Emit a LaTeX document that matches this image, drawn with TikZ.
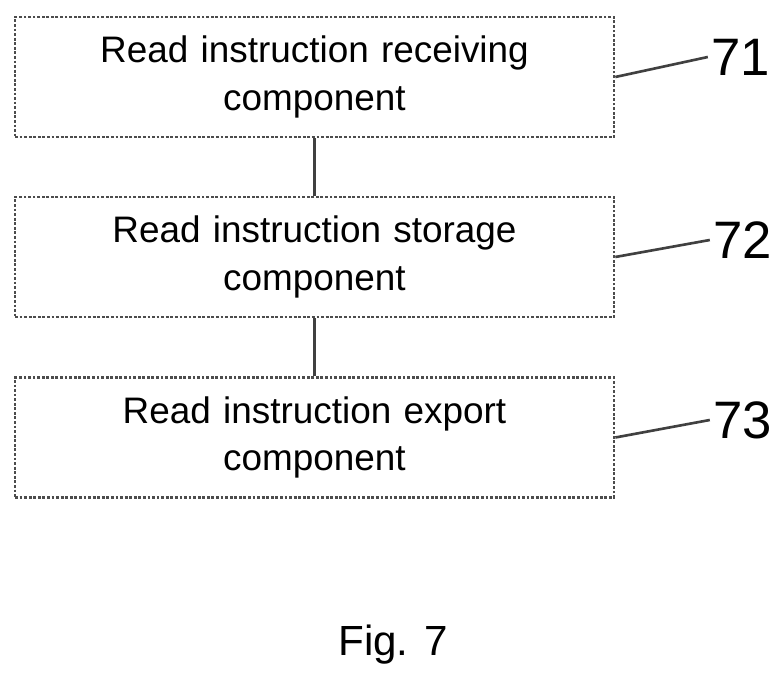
\documentclass[tikz,border=0pt]{standalone}
\usepackage{fontspec}
\setmainfont{Liberation Sans}
\usetikzlibrary{positioning}
\tikzset{
	block/.style={draw=black!70, line width=1.6pt, densely dotted, minimum width=11.98cm, minimum height=2.4cm, text width=11.5cm, align=center, font=\fontsize{21}{27}\selectfont},
	link/.style={draw=black!75, line width=1.5pt},
	refnum/.style={font=\fontsize{30}{30}\selectfont, inner sep=2pt}
}
\begin{document}
\begin{tikzpicture}[x=0.02cm,y=-0.02cm]
	\useasboundingbox (0,0) rectangle (782,678);
	%
	\node[block] (receive) at (314.5,77) {Read instruction receiving\\component};
	\node[block] (store) at (314.5,257) {Read instruction storage\\component};
	\node[block] (export) at (314.5,437.5) {Read instruction export\\component};
	%
	\draw[link] (receive) -- (store);
	\draw[link] (store) -- (export);
	%
	\node[refnum] (n71) at (741,57) {71};
	\node[refnum] (n72) at (743,240) {72};
	\node[refnum] (n73) at (743,420) {73};
	\draw[link] (receive.east) -- (n71.west);
	\draw[link] (store.east) -- (n72.west);
	\draw[link] (export.east) -- (n73.west);
	%
	\node[font=\fontsize{24}{24}\selectfont] (fig) at (393,645) {Fig. 7};
\end{tikzpicture}
\end{document}
